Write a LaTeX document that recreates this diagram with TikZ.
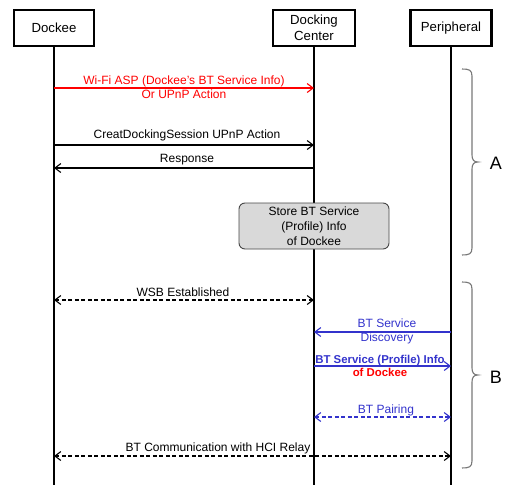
\documentclass[tikz,border=0pt]{standalone}
\usepackage{fontspec}
\setmainfont{Liberation Sans}
\usetikzlibrary{arrows.meta}
\definecolor{msgblue}{RGB}{51,51,204}
\definecolor{msgred}{RGB}{255,0,0}
\definecolor{bracegray}{RGB}{120,120,120}
\definecolor{notefill}{RGB}{217,217,217}
\definecolor{noteline}{RGB}{70,70,70}
\begin{document}
\begin{tikzpicture}[x=1pt,y=-1pt,
  actor/.style={draw,line width=2.2pt,minimum height=36pt,inner sep=0pt,align=center,
    font=\fontsize{13.2}{16}\selectfont},
  lifeline/.style={line width=1.1pt},
  msg/.style={line width=1.1pt,-{Straight Barb[length=6pt,width=9pt]}},
  both/.style={line width=1.1pt,{Straight Barb[length=6pt,width=9pt]}-{Straight Barb[length=6pt,width=9pt]}},
  dashline/.style={dash pattern=on 4pt off 2.5pt},
  lbl/.style={inner sep=0pt,align=center,font=\fontsize{12}{14}\selectfont},
  note/.style={draw=noteline,fill=notefill,line width=0.9pt,rounded corners=6pt,
    minimum width=150pt,minimum height=46pt,inner sep=0pt,align=center,
    font=\fontsize{12}{15}\selectfont},
  bracket/.style={draw=bracegray,line width=1.1pt},
  grp/.style={inner sep=0pt,font=\fontsize{18}{18}\selectfont}]
\useasboundingbox (0,0) rectangle (507,485);

% participants
\node[actor,minimum width=80pt] (dk) at (54,28) {Dockee};
\node[actor,minimum width=82pt] (dc) at (314,28) {Docking\\Center};
\node[actor,minimum width=81pt] (pe) at (451,28) {Peripheral};

% lifelines
\coordinate (bottom) at (0,485);
\draw[lifeline] (dk.south) -- (dk |- bottom);
\draw[lifeline] (dc.south) -- (dc |- bottom);
\draw[lifeline] (pe.south) -- (pe |- bottom);

% message rows
\coordinate (y1) at (0,88);
\coordinate (y2) at (0,145);
\coordinate (y3) at (0,168);
\coordinate (y4) at (0,300);
\coordinate (y5) at (0,332);
\coordinate (y6) at (0,366);
\coordinate (y7) at (0,417);
\coordinate (y8) at (0,456);

% Dockee -> Docking Center
\draw[msg,msgred] (dk |- y1) -- (dc |- y1);
\node[lbl,text=msgred] (m1) at (184,87) {Wi-Fi ASP (Dockee's BT Service Info)\\Or UPnP Action};

\draw[msg] (dk |- y2) -- (dc |- y2);
\node[lbl] (m2) at (187,135) {CreatDockingSession UPnP Action};

\draw[msg] (dc |- y3) -- (dk |- y3);
\node[lbl] (m3) at (187,160) {Response};

\node[note] (store) at (314,226) {Store BT Service\\(Profile) Info\\of Dockee};

\draw[both,dashline] (dk |- y4) -- (dc |- y4);
\node[lbl] (m4) at (183,292) {WSB Established};

% Bluetooth exchange
\draw[msg,msgblue] (pe |- y5) -- (dc |- y5);
\node[lbl,text=msgblue] (m5) at (387,331) {BT Service\\Discovery};

\draw[msg,msgblue] (dc |- y6) -- (pe |- y6);
\node[lbl,font=\fontsize{11.4}{13}\selectfont\bfseries] (m6) at (380,365.5)
  {\textcolor{msgblue}{BT Service (Profile) Info}\\\textcolor{msgred}{of Dockee}};

\draw[both,dashline,msgblue] (dc |- y7) -- (pe |- y7);
\node[lbl,text=msgblue] (m7) at (386,410) {BT Pairing};

\draw[both,dashline] (dk |- y8) -- (pe |- y8);
\node[lbl] (m8) at (218,448) {BT Communication with HCI Relay};

% phase brackets
\draw[bracket] (462,69) .. controls (469,69) and (472,70) .. (472,76) -- (472,155)
  .. controls (472,160) and (474,162) .. (478,162)
  .. controls (474,162) and (472,164) .. (472,169) -- (472,248)
  .. controls (472,254) and (469,255) .. (462,255);
\node[grp] (ga) at (496,163) {A};

\draw[bracket] (462,282) .. controls (469,282) and (472,283) .. (472,289) -- (472,368)
  .. controls (472,373) and (474,375) .. (478,375)
  .. controls (474,375) and (472,377) .. (472,382) -- (472,461)
  .. controls (472,467) and (469,468) .. (462,468);
\node[grp] (gb) at (496,377) {B};
\end{tikzpicture}
\end{document}
